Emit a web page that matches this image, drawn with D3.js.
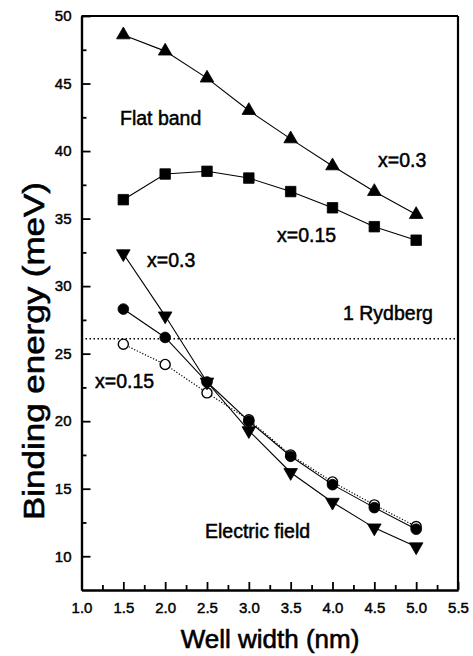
<!DOCTYPE html>
<html><head><meta charset="utf-8">
<script src="https://cdn.jsdelivr.net/npm/d3@7"></script>
<style>body{margin:0;background:#fff}svg{display:block}text{font-family:"Liberation Sans",Arial,sans-serif;fill:#000}</style>
</head><body>
<svg id="c" width="473" height="656"></svg>
<script>
const wellWidth = [1.5, 2.0, 2.5, 3.0, 3.5, 4.0, 4.5, 5.0];
const flatX03 = [48.6, 47.4, 45.4, 43.0, 40.9, 38.9, 37.0, 35.3];
const flatX015 = [36.4, 38.3, 38.5, 38.0, 37.0, 35.8, 34.4, 33.4];
const fieldX03 = [32.4, 27.8, 22.9, 19.3, 16.2, 14.0, 12.1, 10.7];
const fieldFilled = [28.3, 26.2, 22.9, 20.0, 17.4, 15.3, 13.6, 12.0];
const fieldX015 = [25.7, 24.2, 22.1, 20.1, 17.5, 15.5, 13.8, 12.2];
const rydberg = 26.1;
const xTicks = [1.0, 1.5, 2.0, 2.5, 3.0, 3.5, 4.0, 4.5, 5.0, 5.5];
const xMinor = [1.25, 1.75, 2.25, 2.75, 3.25, 3.75, 4.25, 4.75, 5.25];
const yTicks = [10, 15, 20, 25, 30, 35, 40, 45, 50];
const yMinor = [12.5, 17.5, 22.5, 27.5, 32.5, 37.5, 42.5, 47.5];

const svg = d3.select("#c");
const x = d3.scaleLinear().domain([1, 5.5]).range([81.5, 458]);
const y = d3.scaleLinear().domain([7.5, 50]).range([590, 16]);

// Rydberg dotted line
svg.append("line").attr("x1", x(1)).attr("x2", x(5.5)).attr("y1", y(rydberg)).attr("y2", y(rydberg))
  .attr("stroke", "#000").attr("stroke-width", 1.4).attr("stroke-dasharray", "1.5,2.5");

// axes
const gx = svg.append("g").attr("transform", `translate(0,${y(7.5)})`)
  .call(d3.axisBottom(x).tickValues(xTicks).tickFormat(d3.format(".1f")).tickSizeInner(-8).tickSizeOuter(0).tickPadding(12));
const gxm = svg.append("g").attr("transform", `translate(0,${y(7.5)})`)
  .call(d3.axisBottom(x).tickValues(xMinor).tickFormat("").tickSizeInner(-5).tickSizeOuter(0));
const gy = svg.append("g").attr("transform", `translate(${x(1)},0)`)
  .call(d3.axisLeft(y).tickValues(yTicks).tickSizeInner(-9).tickSizeOuter(0).tickPadding(10));
const gym = svg.append("g").attr("transform", `translate(${x(1)},0)`)
  .call(d3.axisLeft(y).tickValues(yMinor).tickFormat("").tickSizeInner(-5).tickSizeOuter(0));
[gx, gxm, gy, gym].forEach(g => {
  g.selectAll("path").attr("stroke", "#000").attr("stroke-width", 2.2);
  g.selectAll("line").attr("stroke", "#000").attr("stroke-width", 1.8);
  g.selectAll("text").attr("font-size", 15).attr("font-family", "Liberation Sans, Arial, sans-serif")
    .attr("fill", "#000").attr("stroke", "#000").attr("stroke-width", 0.45);
});
// top and right frame
svg.append("line").attr("x1", x(1)).attr("x2", x(5.5)).attr("y1", y(50)).attr("y2", y(50)).attr("stroke", "#000").attr("stroke-width", 2.2);
svg.append("line").attr("x1", x(5.5)).attr("x2", x(5.5)).attr("y1", y(50)).attr("y2", y(7.5)).attr("stroke", "#000").attr("stroke-width", 2.2);

function series(vals, opts) {
  const pts = wellWidth.map((w, i) => [w, vals[i]]);
  const line = d3.line().x(d => x(d[0])).y(d => y(d[1]));
  svg.append("path").attr("d", line(pts)).attr("fill", "none").attr("stroke", "#000")
    .attr("stroke-width", opts.dash ? 1.2 : 1.1).attr("stroke-dasharray", opts.dash || null);
  svg.append("g").selectAll("path").data(pts).join("path")
    .attr("d", d3.symbol().type(opts.type).size(opts.size)())
    .attr("transform", d => `translate(${x(d[0])},${y(d[1])}) rotate(${opts.rot || 0})`)
    .attr("fill", opts.fill).attr("stroke", "#000").attr("stroke-width", opts.sw || 0.8);
}
series(flatX03, {type: d3.symbolTriangle, size: 80, fill: "#000"});
series(flatX015, {type: d3.symbolSquare, size: 110, fill: "#000"});
series(fieldX015, {type: d3.symbolCircle, size: 80, fill: "#fff", sw: 1.4, dash: "1.2,1.8"});
series(fieldFilled, {type: d3.symbolCircle, size: 90, fill: "#000"});
series(fieldX03, {type: d3.symbolTriangle, size: 80, fill: "#000", rot: 180});

// annotations
const ann = [
  {t: "Flat band", x: 120, y: 125},
  {t: "x=0.3", x: 378, y: 167},
  {t: "x=0.15", x: 277, y: 242},
  {t: "1 Rydberg", x: 343, y: 320},
  {t: "x=0.3", x: 147, y: 267},
  {t: "x=0.15", x: 95, y: 388},
  {t: "Electric field", x: 205, y: 538}
];
svg.append("g").selectAll("text").data(ann).join("text")
  .attr("x", d => d.x).attr("y", d => d.y).attr("font-size", 19.5)
  .attr("stroke", "#000").attr("stroke-width", 0.5).text(d => d.t);

// axis titles
svg.append("text").attr("x", 270).attr("y", 648).attr("text-anchor", "middle")
  .attr("font-size", 26).attr("stroke", "#000").attr("stroke-width", 0.6).text("Well width (nm)");
svg.append("text").attr("transform", "translate(44,351) rotate(-90)").attr("text-anchor", "middle")
  .attr("font-size", 30).attr("textLength", 338).attr("lengthAdjust", "spacingAndGlyphs")
  .attr("stroke", "#000").attr("stroke-width", 0.6)
  .text("Binding energy (meV)");
</script>
</body></html>
